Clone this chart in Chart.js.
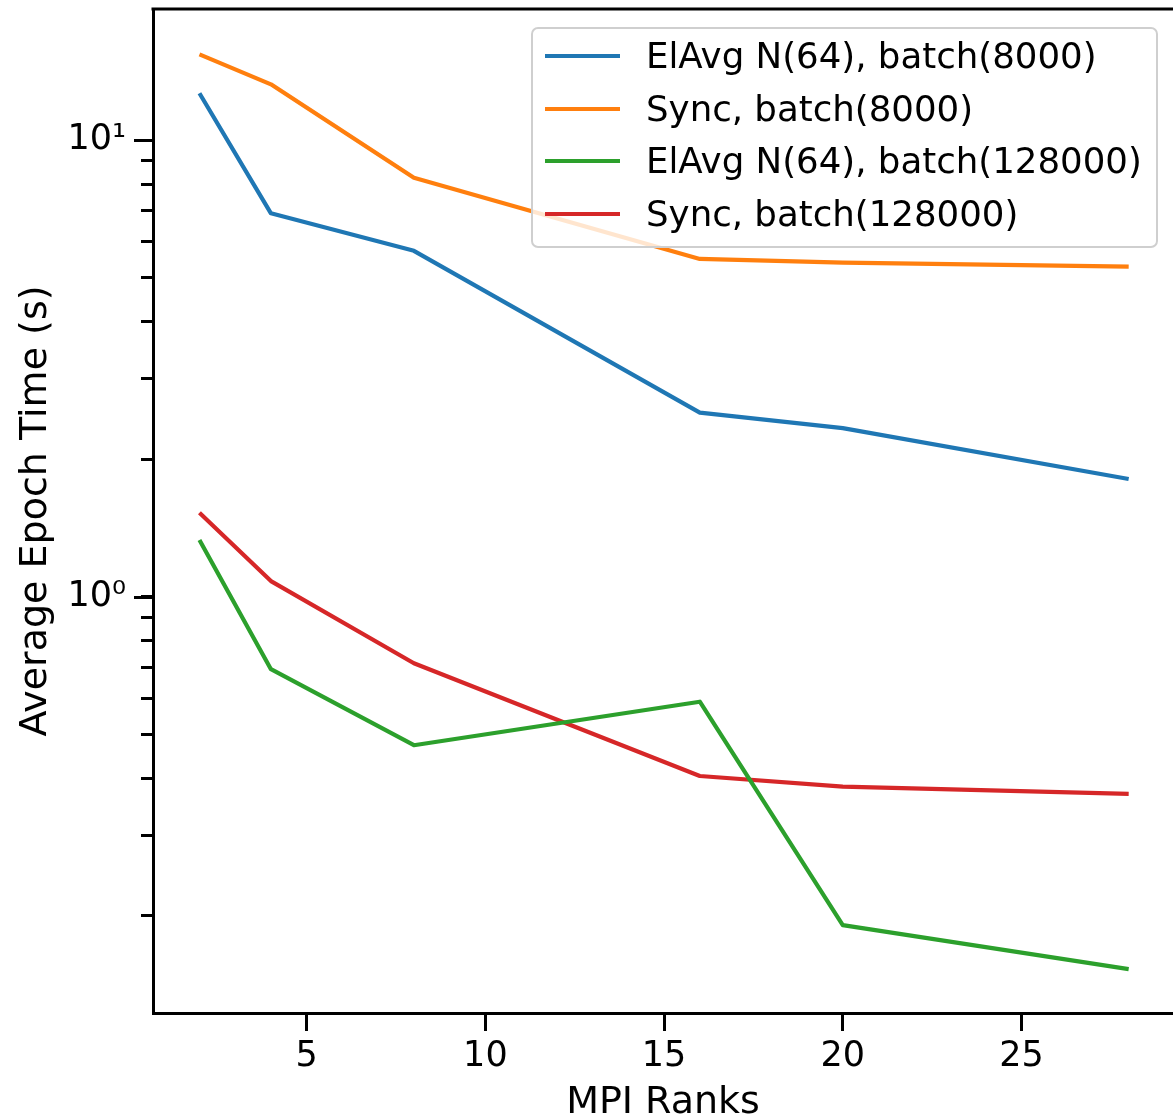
<!DOCTYPE html>
<html><head><meta charset="utf-8">
<script src="https://cdn.jsdelivr.net/npm/chart.js@4.4.1/dist/chart.umd.min.js"></script>
<style>
html,body{margin:0;padding:0;background:#fff;overflow:hidden;}
#wrap{position:relative;width:1173px;height:1119px;}
canvas{display:block;}
#legend{position:absolute;left:531px;top:27px;width:627px;height:221px;box-sizing:border-box;border:2px solid #cfcfcf;border-radius:7px;background:rgba(255,255,255,0.8);font-family:'DejaVu Sans';font-size:35.6px;color:#000;}
#legend .item{position:absolute;left:0;height:40px;line-height:40px;white-space:nowrap;}
#legend .swatch{position:absolute;left:12px;top:18px;width:75px;height:4px;}
#legend .txt{position:absolute;left:113px;top:0;}
</style></head><body>
<div id="wrap"><canvas id="c" width="1173" height="1119"></canvas><div id="legend"></div></div>
<script>
const mpiRanks = [2, 4, 8, 16, 20, 28];
const elavg8000 = [12.66, 6.91, 5.72, 2.53, 2.34, 1.81];
const sync8000 = [15.40, 13.24, 8.27, 5.49, 5.39, 5.28];
const elavg128000 = [1.331, 0.694, 0.473, 0.589, 0.191, 0.153];
const sync128000 = [1.527, 1.082, 0.715, 0.405, 0.384, 0.370];
const seriesLabels = ['ElAvg N(64), batch(8000)', 'Sync, batch(8000)', 'ElAvg N(64), batch(128000)', 'Sync, batch(128000)'];
const seriesColors = ['#1f77b4', '#ff7f0e', '#2ca02c', '#d62728'];
const xTickValues = [5, 10, 15, 20, 25];
const yTickValues = [0.2, 0.3, 0.4, 0.5, 0.6, 0.7, 0.8, 0.9, 1, 2, 3, 4, 5, 6, 7, 8, 9, 10];
const yMajorValues = [1, 10];
const yTickLabels = {1: '10⁰', 10: '10¹'};
const xTitle = 'MPI Ranks';
const yTitle = 'Average Epoch Time (s)';

const seriesValues = [elavg8000, sync8000, elavg128000, sync128000];
const datasets = seriesValues.map((vals, i) => ({
  label: seriesLabels[i],
  data: mpiRanks.map((x, j) => ({x: x, y: vals[j]})),
  borderColor: seriesColors[i],
  backgroundColor: seriesColors[i],
  borderWidth: 4.2,
  pointRadius: 0,
  tension: 0,
  fill: false,
  borderCapStyle: 'butt',
  borderJoinStyle: 'round'
}));

const FONT = 'DejaVu Sans';

const framePlugin = {
  id: 'frame',
  afterDraw(chart) {
    const ctx = chart.ctx, a = chart.chartArea;
    ctx.save();
    ctx.strokeStyle = '#000';
    ctx.lineWidth = 3;
    ctx.beginPath();
    ctx.moveTo(a.left - 1.5, a.top);
    ctx.lineTo(a.right + 2, a.top);
    ctx.stroke();
    // longer major ticks on the log axis
    const ys = chart.scales.y;
    yMajorValues.forEach(v => {
      const p = Math.round(ys.getPixelForValue(v)) + 0.5;
      ctx.beginPath();
      ctx.moveTo(a.left - 19, p);
      ctx.lineTo(a.left, p);
      ctx.stroke();
    });
    ctx.restore();
  }
};

const chart = new Chart(document.getElementById('c'), {
  type: 'line',
  data: {datasets: datasets},
  options: {
    responsive: false,
    animation: false,
    devicePixelRatio: 1,
    layout: {padding: {top: 9, right: 0, bottom: 0, left: 0}},
    plugins: {legend: {display: false}, tooltip: {enabled: false}},
    scales: {
      x: {
        type: 'linear',
        min: 0.7,
        max: 29.24,
        afterBuildTicks: s => { s.ticks = xTickValues.map(v => ({value: v})); },
        afterFit: s => { s.height = 106; s.paddingLeft = 0; s.paddingRight = 0; },
        ticks: {font: {family: FONT, size: 35, lineHeight: 1}, color: '#000', padding: 8, maxRotation: 0, autoSkip: false},
        grid: {drawOnChartArea: false, drawTicks: true, tickLength: 18, tickWidth: 3, tickColor: '#000'},
        border: {display: true, color: '#000', width: 3},
        title: {display: true, text: xTitle, font: {family: FONT, size: 38, lineHeight: 1}, color: '#000', padding: {top: 0, bottom: -3}}
      },
      y: {
        type: 'logarithmic',
        min: 0.1226,
        max: 19.36,
        afterBuildTicks: s => { s.ticks = yTickValues.map(v => ({value: v})); },
        afterFit: s => { s.width = 153; s.paddingTop = 0; s.paddingBottom = 0; },
        ticks: {font: {family: FONT, size: 35, lineHeight: 1}, color: '#000', padding: 15, autoSkip: false,
          callback: v => yTickLabels[v] || ''},
        grid: {drawOnChartArea: false, drawTicks: true, tickLength: 12, tickWidth: 3, tickColor: '#000'},
        border: {display: true, color: '#000', width: 3},
        title: {display: true, text: yTitle, font: {family: FONT, size: 38, lineHeight: 1}, color: '#000', padding: {top: 17, bottom: 0}}
      }
    }
  },
  plugins: [framePlugin]
});

// HTML legend built from the chart's datasets
const legendEl = document.getElementById('legend');
const rowCenters = [27, 80, 132, 185];
chart.data.datasets.forEach((ds, i) => {
  const item = document.createElement('div');
  item.className = 'item';
  item.style.top = (rowCenters[i] - 20) + 'px';
  const sw = document.createElement('span');
  sw.className = 'swatch';
  sw.style.background = ds.borderColor;
  const tx = document.createElement('span');
  tx.className = 'txt';
  tx.textContent = ds.label;
  item.appendChild(sw); item.appendChild(tx);
  legendEl.appendChild(item);
});
</script>
</body></html>
